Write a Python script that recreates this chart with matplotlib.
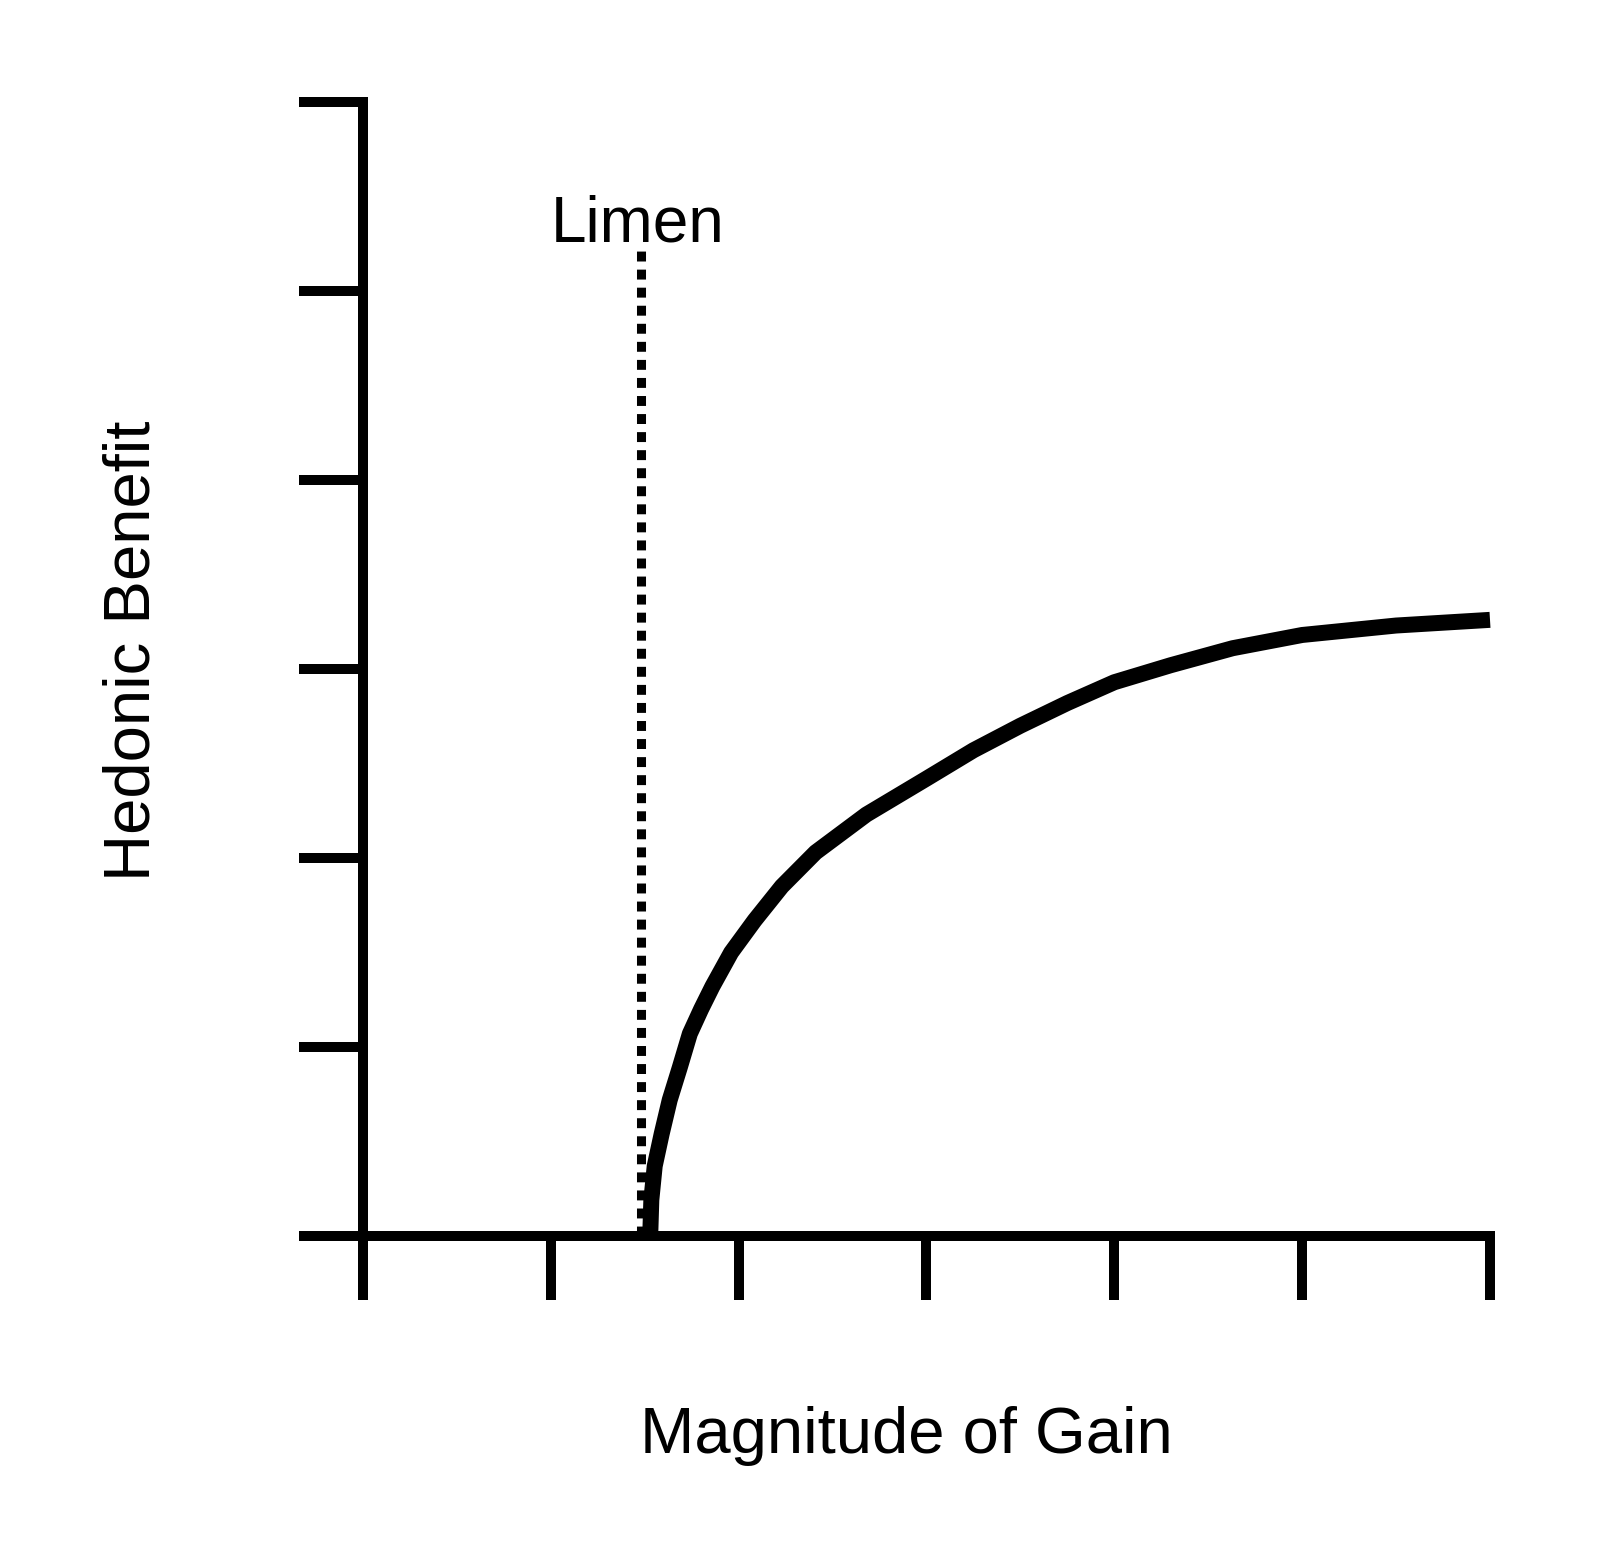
import matplotlib
matplotlib.use("Agg")
import matplotlib.pyplot as plt

# ---- data ----
gain = [1.525, 1.53, 1.535, 1.553, 1.59, 1.633, 1.686, 1.74, 1.80, 1.86, 1.96,
        2.085, 2.23, 2.41, 2.68, 3.0, 3.25, 3.5, 3.75, 4.0, 4.3, 4.63, 5.0,
        5.5, 6.0]
benefit = [0.0, 0.03, 0.19, 0.37, 0.54, 0.72, 0.89, 1.07, 1.20, 1.32, 1.50,
           1.67, 1.85, 2.03, 2.23, 2.42, 2.57, 2.70, 2.82, 2.93, 3.02, 3.11, 3.18,
           3.23, 3.26]
limen_x = 1.48
limen_top = 5.21
x_ticks = [0, 1, 2, 3, 4, 5, 6]
y_ticks = [0, 1, 2, 3, 4, 5, 6]

plt.rcParams['font.family'] = ['Liberation Sans', 'DejaVu Sans']

W, H = 1599, 1554
fig = plt.figure(figsize=(W / 100, H / 100), dpi=100)
fig.patch.set_facecolor('white')
ax = fig.add_axes([363 / W, 1 - 1236 / H, (1490 - 363) / W, (1236 - 102) / H])

ax.plot(gain, benefit, color='black', lw=11.5, solid_capstyle='butt',
        solid_joinstyle='round', clip_on=False, zorder=3)
ax.plot([limen_x, limen_x], [0, limen_top], color='black', lw=6.5,
        linestyle=(0, (1.1, 0.9)), dash_capstyle='butt', clip_on=False, zorder=2)

ax.set_xlim(x_ticks[0], x_ticks[-1])
ax.set_ylim(y_ticks[0], y_ticks[-1])
ax.set_xticks(x_ticks)
ax.set_yticks(y_ticks)
ax.set_xticklabels([])
ax.set_yticklabels([])
ax.tick_params(direction='out', length=46, width=7.2, color='black')
for s in ['top', 'right']:
    ax.spines[s].set_visible(False)
for s in ['left', 'bottom']:
    ax.spines[s].set_linewidth(7.2)
    ax.spines[s].set_color('black')

ax.text(1.46, 5.26, 'Limen', ha='center', va='baseline', fontsize=46)
fig.text(133 / W, 1 - 651 / H, 'Hedonic Benefit', rotation=90, ha='center',
         va='center', fontsize=47)
fig.text(906 / W, 1 - 1453 / H, 'Magnitude of Gain', ha='center',
         va='baseline', fontsize=47)

fig.savefig('out.png', dpi=100, facecolor='white')
